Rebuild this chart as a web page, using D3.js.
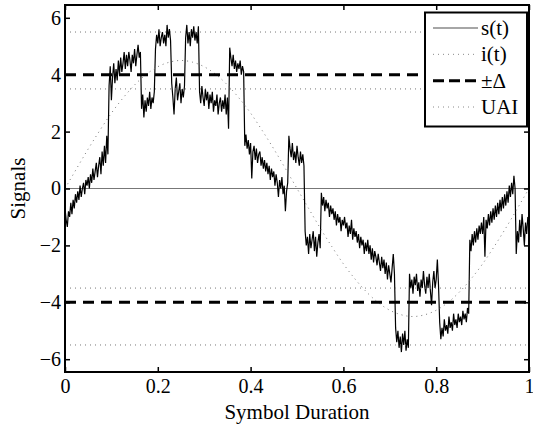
<!DOCTYPE html>
<html>
<head>
<meta charset="utf-8">
<script src="https://cdn.jsdelivr.net/npm/d3@7"></script>
<style>
  body { margin: 0; background: #fff; }
  text { font-family: "Liberation Serif", "Times New Roman", serif; }
</style>
</head>
<body>
<svg id="canvas" width="533" height="427"></svg>
<script>
// received signal s(t), sampled every 0.0025 of a symbol
let sStep = 0.0025;
let sValues = [
  -0.7, -1.1, -1.35, -0.8, -1.0, -0.5, -0.9, -0.4, -0.7, -0.2,
  -0.5, -0.1, -0.4, 0.1, -0.3, 0.0, 0.2, -0.2, 0.3, 0.1,
  0.4, 0.0, 0.5, 0.2, 0.7, 0.3, 0.6, 0.9, 0.4, 0.8,
  1.1, 0.5, 1.3, 0.8, 1.5, 0.9, 1.85, 1.2,
  3.6, 4.3, 3.1, 3.9, 4.4, 3.7, 4.2, 3.8, 4.5, 4.0, 4.6, 4.1, 4.4, 4.8,
  4.2, 4.7, 4.3, 4.8, 4.5, 4.1, 4.7, 4.4, 4.9, 4.3, 4.7, 5.05, 4.6, 4.8,
  2.8, 3.3, 2.5, 3.1, 2.7, 3.2, 2.9, 3.4, 2.8, 3.2, 3.0, 3.4,
  4.9, 5.4, 5.1, 5.6, 5.0, 5.3, 5.5, 5.1, 5.4, 5.0, 5.75, 5.3, 5.6, 5.2,
  3.7, 3.2, 2.6, 3.5, 3.9, 3.1, 3.4, 3.7, 3.0, 3.5, 3.2, 3.6,
  5.3, 5.75, 5.1, 5.5, 5.0, 5.6, 5.3, 5.7, 5.2, 5.5, 5.1, 5.7,
  3.4, 3.0, 3.6, 3.2, 2.9, 3.5, 3.1, 3.4, 2.8, 3.3, 3.0, 3.4, 2.7,
  3.1, 2.9, 3.3, 2.6, 3.0, 3.2, 2.7, 3.1, 2.8, 3.3, 2.6, 3.2, 2.1,
  4.95, 4.6, 4.3, 4.7, 4.2, 4.5, 4.1, 4.4, 4.2, 4.5, 4.0, 4.3, 4.1,
  1.5, 1.9, 1.4, 1.7, 1.2, 1.6, 0.35, 1.3, 1.5, 1.0,
  1.4, 0.9, 1.2, 1.3, 0.8, 1.1, 0.7, 1.0, 0.6, 0.9,
  0.5, 0.8, 0.3, 0.7, 0.4, 0.6, 0.1, 0.5, 0.2, -0.3,
  0.3, 0.0, 0.4, -0.2, 0.1, -0.8, -0.1, 0.2,
  1.85, 1.4, 1.1, 1.6, 1.0, 1.3, 0.9, 1.5, 1.1, 0.8, 1.3, 0.9, 1.2, 0.8,
  -1.5, -2.0, -1.7, -2.3, -1.6, -2.1, -1.8, -1.5, -2.2, -1.7, -2.4, -1.9, -1.6, -2.1,
  -0.15, -0.6, -0.3, -0.8, -0.4, -0.7, -0.5, -1.0, -0.6, -0.9,
  -0.7, -1.1, -0.8, -1.3, -0.9, -1.2, -1.0, -1.5, -1.1, -1.3,
  -1.0, -1.4, -1.2, -1.7, -1.3, -1.6, -1.1, -1.8, -1.4, -1.7,
  -1.5, -1.9, -1.6, -2.1, -1.7, -2.0, -1.8, -2.3, -1.9, -2.2,
  -1.8, -2.3, -2.0, -2.5, -2.1, -2.6, -2.2, -2.4, -2.7, -2.3,
  -2.6, -2.9, -2.4, -2.8, -2.5, -3.0, -2.6, -3.2, -2.7, -3.0,
  -3.3, -2.8, -2.3, -3.0,
  -4.9, -5.4, -5.0, -5.6, -5.2, -5.75, -5.1, -5.5, -5.0, -5.7, -5.3, -5.6,
  -3.0, -3.5, -3.2, -3.7, -3.1, -3.4, -3.0, -3.6, -3.3, -3.8, -3.2, -3.5, -2.9,
  -3.4, -3.7, -3.1, -3.5, -3.0, -3.6, -4.1, -3.3, -2.9, -3.5, -3.2, -2.5, -3.4,
  -4.7, -5.3, -4.9, -5.2, -4.6, -5.0, -4.8, -5.1, -4.5, -4.9, -4.7, -5.0, -4.4,
  -4.8, -4.6, -4.9, -4.4, -4.7, -4.5, -4.8, -4.3, -4.6, -4.4, -4.7, -4.2, -4.4,
  -1.8, -2.2, -1.6, -2.0, -1.5, -1.9, -1.4, -1.8, -1.3, -1.6,
  -1.2, -1.6, -1.0, -2.4, -1.1, -1.4, -0.9, -1.3, -0.8, -1.2,
  -0.7, -1.1, -0.6, -1.0, -0.5, -0.9, -0.4, -0.8, -0.3, -0.7,
  -0.2, -0.6, -0.1, -0.5, 0.1, -0.3, 0.2, -0.2, 0.45, 0.0,
  -2.3, -1.5, -1.9, -1.1, -1.7, -0.9, -1.4, -2.0, -1.2, -1.6, -1.0, -1.3
];

// interference i(t), read every 0.025
let iStep = 0.025;
let iValues = [
  0, 0.70, 1.39, 2.04, 2.65, 3.18, 3.64, 4.01, 4.28, 4.44, 4.5, 4.44, 4.28, 4.01, 3.64, 3.18, 2.65, 2.04, 1.39, 0.70,
  0, -0.70, -1.39, -2.04, -2.65, -3.18, -3.64, -4.01, -4.28, -4.44, -4.5, -4.44, -4.28, -4.01, -3.64, -3.18, -2.65, -2.04, -1.39, -0.70, 0
];

let deltaLevels = [4, -4];
let uaiLevels = [5.5, 3.5, -3.5, -5.5];

let xTicks = [0, 0.2, 0.4, 0.6, 0.8, 1];
let yTicks = [-6, -4, -2, 0, 2, 4, 6];

let legendLabels = ["s(t)", "i(t)", "\u00B1\u0394", "UAI"];

let canvas = d3.select('#canvas');

let mLeft = 65, mRight = 529, mTop = 5, mBottom = 372;
let fontSize = 21;
let tickFont = 20;

let x = d3.scaleLinear().domain([0, 1]).range([mLeft, mRight]);
let y = d3.scaleLinear().domain([-6.45, 6.45]).range([mBottom, mTop]);

canvas.append("defs").append("clipPath").attr("id", "plotArea")
    .append("rect")
    .attr("x", mLeft).attr("y", mTop)
    .attr("width", mRight - mLeft).attr("height", mBottom - mTop);

let plot = canvas.append("g").attr("clip-path", "url(#plotArea)");

// zero line
plot.append("line")
    .attr("x1", x(0)).attr("x2", x(1))
    .attr("y1", y(0)).attr("y2", y(0))
    .attr("stroke", "#777")
    .attr("stroke-width", 1.2);

// s(t)
let sLine = d3.line()
    .x((d, k) => x(k * sStep))
    .y(d => y(d));

plot.append("path")
    .datum(sValues)
    .attr("d", sLine)
    .attr("fill", "none")
    .attr("stroke", "#000")
    .attr("stroke-width", 1.2);

// i(t)
let iLine = d3.line()
    .x((d, k) => x(k * iStep))
    .y(d => y(d))
    .curve(d3.curveNatural);

plot.append("path")
    .datum(iValues)
    .attr("d", iLine)
    .attr("fill", "none")
    .attr("stroke", "#777")
    .attr("stroke-width", 1)
    .attr("stroke-dasharray", "1,4");

// +/- delta thresholds
plot.selectAll(".delta")
    .data(deltaLevels)
    .enter()
    .append("line")
    .attr("class", "delta")
    .attr("x1", x(0)).attr("x2", x(1))
    .attr("y1", d => y(d)).attr("y2", d => y(d))
    .attr("stroke", "#000")
    .attr("stroke-width", 3)
    .attr("stroke-dasharray", "11,7");

// UAI bounds
plot.selectAll(".uai")
    .data(uaiLevels)
    .enter()
    .append("line")
    .attr("class", "uai")
    .attr("x1", x(0)).attr("x2", x(1))
    .attr("y1", d => y(d)).attr("y2", d => y(d))
    .attr("stroke", "#777")
    .attr("stroke-width", 1)
    .attr("stroke-dasharray", "1,4");

// axes, ticks pointing in like matlab
let fmtX = d3.format("");
let xAxisB = d3.axisBottom(x).tickValues(xTicks).tickFormat(fmtX).tickSizeInner(-5).tickSizeOuter(0).tickPadding(7);
let xAxisT = d3.axisTop(x).tickValues(xTicks).tickFormat("").tickSizeInner(-5).tickSizeOuter(0);
let yAxisL = d3.axisLeft(y).tickValues(yTicks).tickSizeInner(-5).tickSizeOuter(0).tickPadding(4);
let yAxisR = d3.axisRight(y).tickValues(yTicks).tickFormat("").tickSizeInner(-5).tickSizeOuter(0);

let styleAxis = g => {
    g.select(".domain").remove();
    g.selectAll("line").attr("stroke", "#000").attr("stroke-width", 1.5);
    g.selectAll("text").attr("font-size", tickFont).attr("fill", "#000")
        .style("font-family", '"Liberation Serif", serif');
};

canvas.append("g").attr("transform", `translate(0,${mBottom})`).call(xAxisB).call(styleAxis);
canvas.append("g").attr("transform", `translate(0,${mTop})`).call(xAxisT).call(styleAxis);
canvas.append("g").attr("transform", `translate(${mLeft},0)`).call(yAxisL).call(styleAxis);
canvas.append("g").attr("transform", `translate(${mRight},0)`).call(yAxisR).call(styleAxis);

// box
canvas.append("rect")
    .attr("x", mLeft).attr("y", mTop)
    .attr("width", mRight - mLeft).attr("height", mBottom - mTop)
    .attr("fill", "none")
    .attr("stroke", "#000")
    .attr("stroke-width", 2);

// axis titles
canvas.append("text")
    .attr("x", (mLeft + mRight) / 2)
    .attr("y", 419)
    .attr("text-anchor", "middle")
    .attr("font-size", fontSize)
    .text("Symbol Duration");

canvas.append("text")
    .attr("transform", `translate(25,${y(0)}) rotate(-90)`)
    .attr("text-anchor", "middle")
    .attr("font-size", fontSize)
    .text("Signals");

// legend
let legend = canvas.append("g");
legend.append("rect")
    .attr("x", 425).attr("y", 12.5)
    .attr("width", 102).attr("height", 114)
    .attr("fill", "#fff")
    .attr("stroke", "#000")
    .attr("stroke-width", 2);

let legendStyles = [
    { stroke: "#888", width: 1.3, dash: null },
    { stroke: "#888", width: 1, dash: "1,4" },
    { stroke: "#000", width: 3, dash: "11,5" },
    { stroke: "#888", width: 1, dash: "1,4" }
];

let rowY = d3.scalePoint().domain(legendLabels).range([28, 107]);

legendLabels.forEach((label, k) => {
    let st = legendStyles[k];
    legend.append("line")
        .attr("x1", 433).attr("x2", 478)
        .attr("y1", rowY(label)).attr("y2", rowY(label))
        .attr("stroke", st.stroke)
        .attr("stroke-width", st.width)
        .attr("stroke-dasharray", st.dash);
    legend.append("text")
        .attr("x", 481)
        .attr("y", rowY(label) + 7)
        .attr("font-size", fontSize)
        .text(label);
});
</script>
</body>
</html>
